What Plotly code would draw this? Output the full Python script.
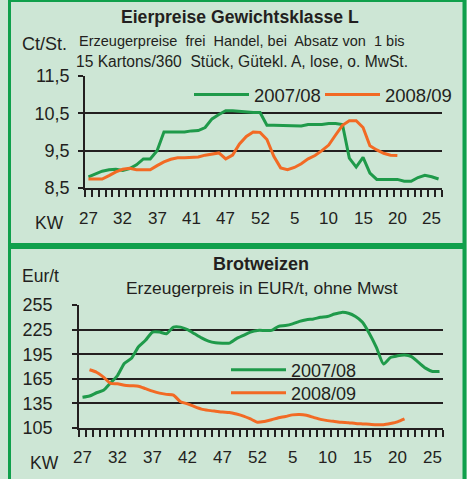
import plotly.graph_objects as go

W, H = 467, 479

weeks = list(range(27, 53)) + list(range(1, 27))
x_idx = list(range(len(weeks)))

label_pos = [0, 5, 10, 15, 20, 25, 30, 35, 40, 45, 50]
egg_tick_text = ["27", "32", "37", "41", "47", "52", "5", "10", "15", "20", "25"]
wheat_tick_text = ["27", "32", "37", "42", "47", "52", "5", "10", "15", "20", "25"]

egg_y_vals = [8.5, 9.5, 10.5, 11.5]
egg_y_text = ["8,5", "9,5", "10,5", "11,5"]
wheat_y_vals = [105, 135, 165, 195, 225, 255]

egg_2007 = [8.80, 8.88, 8.95, 8.99, 9.0, 8.97, 9.02, 9.12, 9.28, 9.28,
            9.5, 10.0, 10.0, 10.0, 10.0, 10.03, 10.04, 10.12, 10.35, 10.47,
            10.57, 10.57, 10.55, 10.52, 10.52, 10.52, 10.18, 10.18, 10.18, 10.18,
            10.18, 10.16, 10.2, 10.2, 10.2, 10.23, 10.23, 10.2, 9.3, 9.06,
            9.32, 8.9, 8.73, 8.73, 8.73, 8.73, 8.68, 8.68, 8.78, 8.84,
            8.8, 8.74]
egg_2008 = [8.74, 8.74, 8.74, 8.83, 8.93, 9.0, 9.03, 8.99, 8.99, 8.99,
            9.1, 9.2, 9.27, 9.31, 9.31, 9.31, 9.33, 9.38, 9.42, 9.44,
            9.28, 9.38, 9.68, 9.88, 10.0, 9.99, 9.8, 9.35, 9.04, 8.99,
            9.05, 9.15, 9.28, 9.37, 9.5, 9.65, 9.92, 10.18, 10.3, 10.3,
            10.12, 9.63, 9.52, 9.43, 9.38, 9.37]

wheat_2007 = [142.5, 144, 148, 151, 160, 169, 184, 190, 204, 212,
              222, 222, 220, 228, 228, 225, 220, 215, 211, 209,
              208.5, 208.5, 214, 218, 222, 224, 224, 224, 229, 230,
              232, 235, 237, 238, 240, 241, 244, 246, 245, 241,
              234, 220, 203, 183, 191, 193, 194, 192, 185, 178,
              174, 174]
wheat_2008 = [None, 176, 173, 167, 159.5, 159, 157, 156.5, 156, 153,
              150, 147.5, 146, 145, 137, 134.5, 131, 128, 126.5, 125.5,
              124.5, 124, 122, 119.5, 116, 112, 113, 115, 117.5, 119,
              121, 121.5, 120.5, 118, 115.5, 114, 113, 112, 111.5, 110.5,
              110, 109.5, 109, 109, 110.5, 112.5, 116]

GREEN = "#1f9a4a"
ORANGE = "#f26a24"
BG = "#cde6d5"
BORDER = "#10a04c"
INK = "#231f20"
FONT = "Liberation Sans, Arial, sans-serif"

def px(v):
    return v / W

def py(v):
    return 1 - v / H

fig = go.Figure()

fig.add_trace(go.Scatter(x=x_idx, y=egg_2007, mode="lines", name="2007/08",
                         line=dict(color=GREEN, width=3), xaxis="x", yaxis="y", legend="legend"))
fig.add_trace(go.Scatter(x=x_idx[:len(egg_2008)], y=egg_2008, mode="lines", name="2008/09",
                         line=dict(color=ORANGE, width=3), xaxis="x", yaxis="y", legend="legend2"))
fig.add_trace(go.Scatter(x=x_idx, y=wheat_2007, mode="lines", name="2007/08",
                         line=dict(color=GREEN, width=3, shape="spline", smoothing=0.6),
                         xaxis="x2", yaxis="y2", legend="legend3"))
fig.add_trace(go.Scatter(x=x_idx[:len(wheat_2008)], y=wheat_2008, mode="lines", name="2008/09",
                         line=dict(color=ORANGE, width=3, shape="spline", smoothing=0.6),
                         xaxis="x2", yaxis="y2", legend="legend4"))

XRANGE = [-0.5, 51.5]
bounds = [k - 0.5 for k in range(len(weeks) + 1)]

def xaxis_ticks(domain, anchor):
    # axis line with one tick mark at every week boundary
    return dict(domain=domain, anchor=anchor, range=XRANGE, showgrid=False, zeroline=False,
                showline=True, linecolor=INK, linewidth=1.5,
                tickmode="array", tickvals=bounds, showticklabels=False,
                ticks="outside", ticklen=7, tickwidth=1.5, tickcolor=INK)

def yaxis_cfg(domain, anchor, rng, vals, text, size, standoff):
    return dict(domain=domain, anchor=anchor, range=rng, showgrid=True, gridcolor=INK,
                gridwidth=1.5, zeroline=False, showline=True, linecolor=INK, linewidth=1.5,
                tickmode="array", tickvals=vals, ticktext=text,
                ticks="outside", ticklen=5, tickwidth=1.5, tickcolor=INK,
                ticklabelstandoff=standoff,
                tickfont=dict(family=FONT, size=size, color=INK))

def leg(x, y, size):
    return dict(orientation="v", x=px(x), y=py(y), xanchor="left", yanchor="middle",
                bgcolor="rgba(0,0,0,0)", borderwidth=0,
                font=dict(family=FONT, size=size, color=INK), itemwidth=55)

fig.update_layout(
    width=W, height=H, margin=dict(l=0, r=0, t=0, b=0, autoexpand=False),
    paper_bgcolor=BG, plot_bgcolor="rgba(0,0,0,0)",
    font=dict(family=FONT, color=INK),
    xaxis=xaxis_ticks([px(85), px(442)], "y"),
    yaxis=yaxis_cfg([py(188), py(76)], "x", [8.5, 11.5], egg_y_vals, egg_y_text, 18, 5),
    xaxis2=xaxis_ticks([px(79), px(443)], "y2"),
    yaxis2=yaxis_cfg([py(428), py(305)], "x2", [105, 255], wheat_y_vals,
                     [str(v) for v in wheat_y_vals], 18, 16),
    legend=leg(189, 95, 18.5),
    legend2=leg(320, 95, 18.5),
    legend3=leg(226, 370, 18),
    legend4=leg(226, 393, 18),
    showlegend=True,
)

anns = [
    dict(text="<b>Eierpreise Gewichtsklasse L</b>", x=240, y=17, size=17.6),
    dict(text="Erzeugerpreise  frei  Handel, bei  Absatz von  1 bis", x=242, y=41, size=14.5),
    dict(text="15 Kartons/360  Stück, Gütekl. A, lose, o. MwSt.", x=242, y=62, size=15.6),
    dict(text="Ct/St.", x=44, y=44, size=18),
    dict(text="KW", x=49, y=223, size=17.5),
    dict(text="<b>Brotweizen</b>", x=261, y=264, size=18),
    dict(text="Erzeugerpreis in EUR/t, ohne Mwst", x=262, y=288, size=17.4),
    dict(text="Eur/t", x=40, y=276, size=17.5),
    dict(text="KW", x=44, y=463, size=17.5),
]
annotations = [
    dict(text=a["text"], x=px(a["x"]), y=py(a["y"]), xref="paper", yref="paper",
         xanchor="center", yanchor="middle", showarrow=False,
         font=dict(family=FONT, size=a["size"], color=INK)) for a in anns
]
# week labels, placed through each panel's x axis
for xref, texts, ypix in (("x", egg_tick_text, 218), ("x2", wheat_tick_text, 457)):
    for pos, t in zip(label_pos, texts):
        annotations.append(dict(text=t, x=pos, y=py(ypix), xref=xref, yref="paper",
                                xanchor="center", yanchor="middle", showarrow=False,
                                font=dict(family=FONT, size=17, color=INK)))
fig.update_layout(annotations=annotations)

def seg(x0, y0, x1, y1, w):
    return dict(type="line", xref="paper", yref="paper", x0=px(x0), y0=py(y0),
                x1=px(x1), y1=py(y1), line=dict(color=BORDER, width=w), layer="below")

fig.update_layout(shapes=[
    seg(8, 1, 466, 1, 2),          # top edge
    seg(9.5, 0, 9.5, 479, 3),      # left edge
    seg(464.5, 0, 464.5, 479, 4),  # right edge
    seg(8, 246, 466, 246, 6),      # separator between panels
])

fig.write_html("out.html", config={"displayModeBar": False},
               post_script="document.body.style.margin='0';"
                           "document.body.style.background='" + BG + "';")
